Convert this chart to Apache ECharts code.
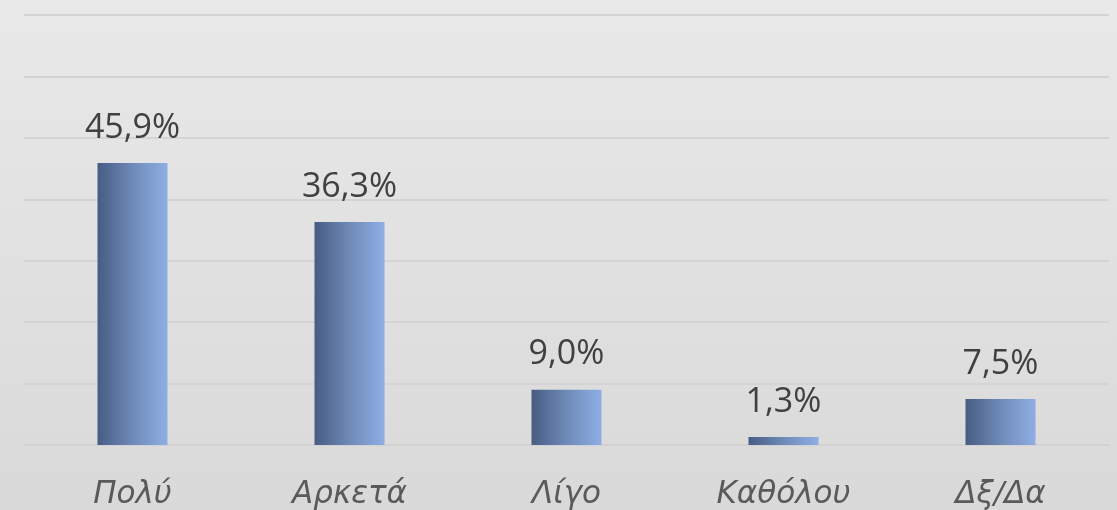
<!DOCTYPE html>
<html>
<head>
<meta charset="utf-8">
<script src="https://cdn.jsdelivr.net/npm/echarts@6/dist/echarts.min.js"></script>
<style>
  html, body { margin: 0; padding: 0; }
  #chart { width: 1117px; height: 510px; }
</style>
</head>
<body>
<div id="chart"></div>
<script>
var categories = ['Πολύ', 'Αρκετά', 'Λίγο', 'Καθόλου', 'Δξ/Δα'];
var values = [45.9, 36.3, 9.0, 1.3, 7.5];

var chart = echarts.init(document.getElementById('chart'));

var option = {
  animation: false,
  backgroundColor: new echarts.graphic.LinearGradient(0, 0, 0, 1, [
    { offset: 0, color: '#e9e9e9' },
    { offset: 1, color: '#d9d9d9' }
  ]),
  grid: { left: 24, right: 8, top: 15, bottom: 65, containLabel: false },
  xAxis: {
    type: 'category',
    data: categories,
    axisTick: { show: false },
    axisLine: { show: true, lineStyle: { color: '#d2d2d2', width: 2 } },
    axisLabel: {
      margin: 34,
      fontSize: 31,
      fontStyle: 'italic',
      fontFamily: 'DejaVu Sans',
      color: '#5a5a5a'
    }
  },
  yAxis: {
    type: 'value',
    min: 0,
    max: 70,
    interval: 10,
    axisLabel: { show: false },
    axisLine: { show: false },
    axisTick: { show: false },
    splitLine: { lineStyle: { color: '#d4d4d4', width: 2 } }
  },
  series: [{
    type: 'bar',
    data: values,
    barWidth: 70,
    itemStyle: {
      color: new echarts.graphic.LinearGradient(0, 0, 1, 0, [
        { offset: 0, color: '#475c82' },
        { offset: 0.5, color: '#6f8ab8' },
        { offset: 1, color: '#8eaee4' }
      ])
    },
    label: {
      show: true,
      position: 'top',
      distance: 18,
      fontSize: 34,
      fontFamily: 'Open Sans',
      color: '#404040',
      formatter: function (p) {
        return p.value.toFixed(1).replace('.', ',') + '%';
      }
    }
  }]
};

chart.setOption(option);
</script>
</body>
</html>
